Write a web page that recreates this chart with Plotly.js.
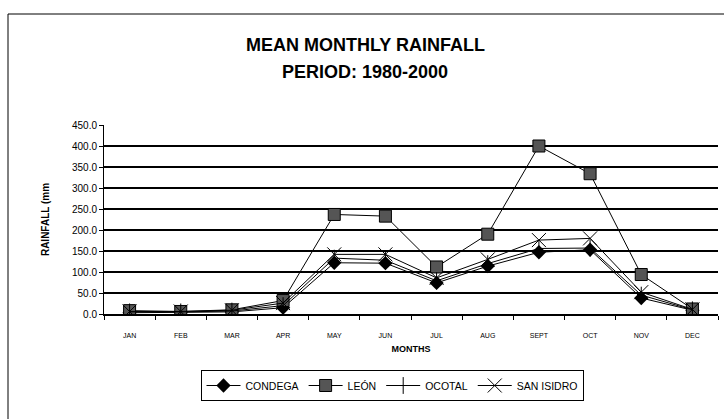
<!DOCTYPE html>
<html>
<head>
<meta charset="utf-8">
<script src="https://cdn.plot.ly/plotly-3.0.1.min.js"></script>
<style>html,body{margin:0;padding:0;background:#fff;}#chart{width:724px;height:419px;}</style>
</head>
<body>
<div id="chart"></div>
<script>
const months = ["JAN","FEB","MAR","APR","MAY","JUN","JUL","AUG","SEPT","OCT","NOV","DEC"];
const condega = [3, 4, 5, 15, 122, 121, 74, 114, 147, 153, 38, 9];
const leon = [8, 6, 10, 32, 237, 233, 112, 190, 400, 334, 94, 12];
const ocotal = [5, 5, 7, 20, 133, 128, 79, 120, 156, 157, 45, 10];
const sanIsidro = [6, 6, 9, 26, 142, 142, 86, 130, 176, 180, 52, 11];
const yTicks = [0, 50, 100, 150, 200, 250, 300, 350, 400, 450];
const titleLines = ["MEAN MONTHLY RAINFALL", "PERIOD: 1980-2000"];

const font = "Liberation Sans, Arial, sans-serif";
const line = {color: "#000", width: 1};
const traces = [
  {name: "CONDEGA", y: condega, marker: {symbol: "diamond", size: 11, color: "#000"}},
  {name: "LEÓN", y: leon, marker: {symbol: "square", size: 12, color: "#555", line: {color: "#000", width: 1}}},
  {name: "OCOTAL", y: ocotal, marker: {symbol: "line-ns", size: 12, line: {color: "#000", width: 1}}},
  {name: "SAN ISIDRO", y: sanIsidro, marker: {symbol: "x-thin", size: 14, line: {color: "#000", width: 1}}}
].map(t => Object.assign({type: "scatter", mode: "lines+markers", x: months, line: line}, t));

const W = 724, H = 419, L = 104, R = 6, T = 125, B = 105;
const pw = W - L - R, ph = H - T - B;
const fx = (px) => (px - L) / pw, fy = (py) => (H - B - py) / ph;

const layout = {
  width: W, height: H,
  margin: {l: L, r: R, t: T, b: B},
  paper_bgcolor: "#fff", plot_bgcolor: "#fff",
  font: {family: font, color: "#000"},
  xaxis: {
    type: "category", range: [-0.5, months.length - 0.5], tickson: "boundaries", ticks: "outside", ticklen: 4, tickcolor: "#000",
    showline: true, linecolor: "#000", linewidth: 1.5, showgrid: false, zeroline: false,
    tickfont: {size: 7, family: font}, ticklabelstandoff: 14, fixedrange: true,
    title: {text: "<b>MONTHS</b>", font: {size: 9, family: font}, standoff: 8}
  },
  yaxis: {
    range: [0, 450], tickvals: yTicks, tickformat: ".1f", ticks: "outside", ticklen: 4, tickcolor: "#000",
    showline: true, linecolor: "#000", linewidth: 1, gridcolor: "#000", gridwidth: 1.6, zeroline: false,
    tickfont: {size: 10, family: font},
    title: {text: "<b>RAINFALL (mm</b>", font: {size: 10, family: font}, standoff: 20}
  },
  legend: {
    orientation: "h", x: fx(392), xanchor: "center", y: fy(370), yanchor: "top",
    bordercolor: "#000", borderwidth: 1, bgcolor: "#fff",
    font: {size: 10.5, family: font}, itemwidth: 34
  },
  annotations: titleLines.map((t, i) => ({
    text: "<b>" + t + "</b>", xref: "paper", yref: "paper", x: fx(365), y: fy(45 + i * 27),
    xanchor: "center", yanchor: "middle", showarrow: false, font: {size: 18, family: font, color: "#000"}
  })),
  shapes: [
    {type: "line", xref: "paper", yref: "paper", x0: fx(8), x1: fx(724), y0: fy(14), y1: fy(14), line: {color: "#000", width: 1}},
    {type: "line", xref: "paper", yref: "paper", x0: fx(8), x1: fx(8), y0: fy(14), y1: fy(419), line: {color: "#000", width: 1}}
  ],
  showlegend: true
};
Plotly.newPlot("chart", traces, layout, {staticPlot: true});
</script>
</body>
</html>
